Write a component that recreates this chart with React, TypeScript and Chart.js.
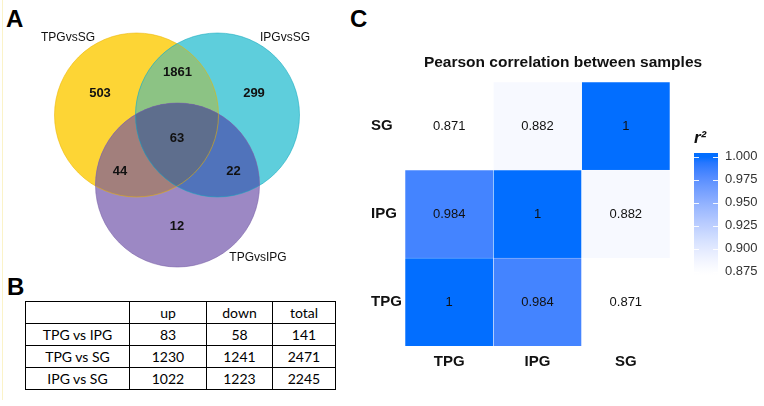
import React, { useEffect, useRef } from "react";
import { Chart, registerables } from "chart.js";
Chart.register(...registerables);

// ---------------- Data ----------------
// Panel A: Venn diagram
const vennSetNames = ["TPGvsSG", "IPGvsSG", "TPGvsIPG"];
// region counts: TPGvsSG only, TPGvsSG∩IPGvsSG, IPGvsSG only, all three, TPGvsSG∩TPGvsIPG, IPGvsSG∩TPGvsIPG, TPGvsIPG only
const vennRegionCounts = [503, 1861, 299, 63, 44, 22, 12];

// Panel B: table
const tableColumns = ["up", "down", "total"];
const tableRows = ["TPG vs IPG", "TPG vs SG", "IPG vs SG"];
const upCounts = [83, 1230, 1022];
const downCounts = [58, 1241, 1223];
const totalCounts = [141, 2471, 2245];

// Panel C: Pearson correlation heatmap
const samples = ["TPG", "IPG", "SG"];
const corrTPG = [1, 0.984, 0.871];
const corrIPG = [0.984, 1, 0.882];
const corrSG = [0.871, 0.882, 1];
const corrRows = [corrTPG, corrIPG, corrSG]; // bottom to top
const colorbarTicks = [0.875, 0.9, 0.925, 0.95, 0.975, 1.0];
const corrMin = 0.871;
const corrMax = 1.0;

// ---------------- Layout (not data) ----------------
const VENN_CX = [136.5, 217.5, 177.5];
const VENN_CY = [115, 115, 185];
const VENN_R = 82;
const VENN_LABEL_X = [68, 285, 258];
const VENN_LABEL_Y = [38, 38, 258];
const VENN_NUM_X = [100, 177.5, 254, 177, 120, 233.5, 177];
const VENN_NUM_Y = [93, 72.5, 93, 138, 171, 171, 226];
const VENN_FILL = ["#FDD535", "#5ECEDC", "#9C88C4"];
const VENN_STROKE = ["rgba(235,180,0,0.55)", "rgba(20,170,190,0.55)", "rgba(120,95,165,0.55)"];
const VENN_YC = "#8CC384";
const VENN_YP = "#A27F7C";
const VENN_CP = "#5073BB";
const VENN_YCP = "#5E6E8D";

// ---------------- Colour scale (white -> blue) ----------------
const LOW_RGB = [255, 255, 255];
const HIGH_RGB = [2, 110, 255];
function s2l(c: number) { c /= 255; return c <= 0.04045 ? c / 12.92 : Math.pow((c + 0.055) / 1.055, 2.4); }
function l2s(c: number) { const v = c <= 0.0031308 ? 12.92 * c : 1.055 * Math.pow(c, 1 / 2.4) - 0.055; return Math.max(0, Math.min(1, v)) * 255; }
function rgbToLab(rgb: number[]) {
  const R = s2l(rgb[0]), G = s2l(rgb[1]), B = s2l(rgb[2]);
  const X = (0.4124 * R + 0.3576 * G + 0.1805 * B) / 0.95047;
  const Y = 0.2126 * R + 0.7152 * G + 0.0722 * B;
  const Z = (0.0193 * R + 0.1192 * G + 0.9505 * B) / 1.08883;
  const f = (t: number) => (t > 0.008856 ? Math.cbrt(t) : 7.787 * t + 16 / 116);
  const fx = f(X), fy = f(Y), fz = f(Z);
  return [116 * fy - 16, 500 * (fx - fy), 200 * (fy - fz)];
}
function labToRgb(lab: number[]) {
  const fy = (lab[0] + 16) / 116, fx = fy + lab[1] / 500, fz = fy - lab[2] / 200;
  const fi = (t: number) => (t * t * t > 0.008856 ? t * t * t : (t - 16 / 116) / 7.787);
  const X = fi(fx) * 0.95047, Y = fi(fy), Z = fi(fz) * 1.08883;
  const R = 3.2406 * X - 1.5372 * Y - 0.4986 * Z;
  const G = -0.9689 * X + 1.8758 * Y + 0.0415 * Z;
  const B = 0.0557 * X - 0.204 * Y + 1.057 * Z;
  return [l2s(R), l2s(G), l2s(B)];
}
const LOW_LAB = rgbToLab(LOW_RGB);
const HIGH_LAB = rgbToLab(HIGH_RGB);
function corrColor(v: number) {
  const t0 = Math.max(0, Math.min(1, (v - corrMin) / (corrMax - corrMin)));
  const t = Math.pow(t0, 1.3);
  const lab = LOW_LAB.map((l, i) => l + (HIGH_LAB[i] - l) * t);
  const a = labToRgb(lab);
  const b = LOW_RGB.map((l, i) => l + (HIGH_RGB[i] - l) * t);
  const c = a.map((x, i) => Math.round((x + b[i]) / 2));
  return `rgb(${c[0]},${c[1]},${c[2]})`;
}

const SANS = "'Liberation Sans', Arial, Helvetica, sans-serif";

// ---------------- Venn chart ----------------
function VennChart() {
  const ref = useRef<HTMLCanvasElement>(null);
  useEffect(() => {
    const plugin = {
      id: "vennRegions",
      afterDatasetsDraw(chart: any) {
        const ctx = chart.ctx as CanvasRenderingContext2D;
        const meta = chart.getDatasetMeta(0);
        const circ = meta.data.map((el: any) => ({ x: el.x, y: el.y, r: el.options.radius }));
        const fill = (idx: number[], color: string) => {
          ctx.save();
          idx.forEach((i) => {
            ctx.beginPath();
            ctx.arc(circ[i].x, circ[i].y, circ[i].r, 0, Math.PI * 2);
            ctx.clip();
          });
          ctx.fillStyle = color;
          ctx.fillRect(0, 0, chart.width, chart.height);
          ctx.restore();
        };
        fill([0, 1], VENN_YC);
        fill([0, 2], VENN_YP);
        fill([1, 2], VENN_CP);
        fill([0, 1, 2], VENN_YCP);
        circ.forEach((c: any, i: number) => {
          ctx.save();
          ctx.beginPath();
          ctx.arc(c.x, c.y, c.r, 0, Math.PI * 2);
          ctx.strokeStyle = VENN_STROKE[i];
          ctx.lineWidth = 1;
          ctx.stroke();
          ctx.restore();
        });
        const xs = chart.scales.x, ys = chart.scales.y;
        ctx.save();
        ctx.fillStyle = "#111";
        ctx.textAlign = "center";
        ctx.textBaseline = "middle";
        ctx.font = `bold 13px ${SANS}`;
        vennRegionCounts.forEach((n, i) => {
          ctx.fillText(String(n), xs.getPixelForValue(VENN_NUM_X[i]), ys.getPixelForValue(VENN_NUM_Y[i]));
        });
        ctx.font = `12px ${SANS}`;
        vennSetNames.forEach((s, i) => {
          ctx.fillText(s, xs.getPixelForValue(VENN_LABEL_X[i]), ys.getPixelForValue(VENN_LABEL_Y[i]));
        });
        ctx.restore();
      },
    };
    const chart = new Chart(ref.current!, {
      type: "bubble",
      data: {
        datasets: [
          {
            label: "sets",
            data: vennSetNames.map((_, i) => ({ x: VENN_CX[i], y: VENN_CY[i], r: VENN_R })),
            backgroundColor: VENN_FILL,
            borderWidth: 0,
            hoverBorderWidth: 0,
            clip: false as any,
          },
        ],
      },
      options: {
        animation: false,
        responsive: false,
        events: [],
        layout: { padding: 0, autoPadding: false },
        plugins: { legend: { display: false }, tooltip: { enabled: false } },
        scales: {
          x: { type: "linear", min: 0, max: 340, display: false },
          y: { type: "linear", min: 0, max: 280, reverse: true, display: false },
        },
      },
      plugins: [plugin],
    });
    return () => chart.destroy();
  }, []);
  return <canvas ref={ref} width={340} height={280} style={{ position: "absolute", left: 0, top: 0, width: 340, height: 280 }} />;
}

// ---------------- Heatmap chart ----------------
function HeatmapChart() {
  const ref = useRef<HTMLCanvasElement>(null);
  useEffect(() => {
    const textPlugin = {
      id: "cellText",
      afterDatasetsDraw(chart: any) {
        const ctx = chart.ctx as CanvasRenderingContext2D;
        ctx.save();
        ctx.font = `13px ${SANS}`;
        ctx.fillStyle = "#111";
        ctx.textAlign = "center";
        ctx.textBaseline = "middle";
        corrRows.forEach((row, i) => {
          const meta = chart.getDatasetMeta(i);
          meta.data.forEach((el: any, j: number) => {
            ctx.fillText(String(row[j]), el.x, (el.y + el.base) / 2);
          });
        });
        ctx.restore();
      },
    };
    const chart = new Chart(ref.current!, {
      type: "bar",
      data: {
        labels: samples,
        datasets: corrRows.map((row, i) => ({
          label: samples[i],
          data: samples.map(() => 1),
          backgroundColor: row.map((v) => corrColor(v)),
          borderColor: "rgba(255,255,255,0.55)",
          borderWidth: 0.6,
          barPercentage: 1,
          categoryPercentage: 1,
          yAxisID: "y",
        })),
      },
      options: {
        animation: false,
        responsive: false,
        events: [],
        layout: { padding: { left: 11, right: 0, top: 0, bottom: 0 } },
        plugins: {
          legend: { display: false },
          tooltip: { enabled: false },
          title: {
            display: true,
            text: "Pearson correlation between samples",
            color: "#111",
            font: { family: SANS, size: 15.5, weight: "bold" },
            padding: { top: 13, bottom: 10.4 },
          },
        },
        scales: {
          x: {
            stacked: true,
            grid: { display: false, drawTicks: false },
            border: { display: false },
            ticks: { color: "#111", font: { family: SANS, size: 15, weight: "bold" }, padding: 7 },
            afterFit: (s: any) => { s.height = 34; },
          },
          y: {
            stacked: true,
            min: 0,
            max: 3,
            grid: { display: false, drawTicks: false },
            border: { display: false },
            afterBuildTicks: (s: any) => { s.ticks = samples.map((_, i) => ({ value: i + 0.5 })); },
            ticks: {
              color: "#111",
              font: { family: SANS, size: 15, weight: "bold" },
              padding: 6,
              crossAlign: "far",
              callback: (v: any) => samples[Math.floor(Number(v))],
            },
            afterFit: (s: any) => { s.width = 34; },
          },
          y2: {
            type: "linear",
            position: "right",
            min: 0,
            max: 1,
            grid: { display: false, drawTicks: false },
            border: { display: false },
            ticks: { display: false },
            afterFit: (s: any) => { s.width = 85; },
          },
        },
      },
      plugins: [textPlugin],
    });
    return () => chart.destroy();
  }, []);
  return <canvas ref={ref} width={395} height={340} style={{ position: "absolute", left: 360, top: 40, width: 395, height: 340 }} />;
}

// ---------------- Colour bar ----------------
function ColorbarChart() {
  const ref = useRef<HTMLCanvasElement>(null);
  useEffect(() => {
    const tickMarks = {
      id: "cbTicks",
      afterDatasetsDraw(chart: any) {
        const ctx = chart.ctx as CanvasRenderingContext2D;
        const a = chart.chartArea;
        const ys = chart.scales.y;
        ctx.save();
        ctx.strokeStyle = "rgba(255,255,255,0.9)";
        ctx.lineWidth = 1;
        colorbarTicks.forEach((t) => {
          const y = Math.round(ys.getPixelForValue(t)) + 0.5;
          ctx.beginPath();
          ctx.moveTo(a.left, y);
          ctx.lineTo(a.left + 5, y);
          ctx.moveTo(a.right - 5, y);
          ctx.lineTo(a.right, y);
          ctx.stroke();
        });
        ctx.restore();
      },
    };
    const top = 1.0042;
    const chart = new Chart(ref.current!, {
      type: "bar",
      data: {
        labels: [""],
        datasets: [
          {
            label: "r2",
            data: [[corrMin, top]] as any,
            barPercentage: 1,
            categoryPercentage: 1,
            borderWidth: 0,
            backgroundColor: (c: any) => {
              const ch = c.chart;
              if (!ch.chartArea) return "#fff";
              const ys = ch.scales.y;
              const y0 = ys.getPixelForValue(corrMin);
              const y1 = ys.getPixelForValue(corrMax);
              const g = ch.ctx.createLinearGradient(0, y0, 0, y1);
              for (let k = 0; k <= 20; k++) {
                g.addColorStop(k / 20, corrColor(corrMin + ((corrMax - corrMin) * k) / 20));
              }
              return g;
            },
          },
        ],
      },
      options: {
        animation: false,
        responsive: false,
        events: [],
        layout: { padding: { left: 14, right: 0, top: 0, bottom: 11 } },
        plugins: {
          legend: { display: false },
          tooltip: { enabled: false },
          title: {
            display: true,
            text: "r²",
            align: "start",
            color: "#111",
            font: { family: SANS, size: 17, weight: "bold", style: "italic" },
            padding: { top: 8, bottom: 4.6 },
          },
        },
        scales: {
          x: { display: false },
          y: {
            position: "right",
            min: corrMin,
            max: top,
            grid: { display: false, drawTicks: false },
            border: { display: false },
            afterBuildTicks: (s: any) => { s.ticks = colorbarTicks.map((v) => ({ value: v })); },
            ticks: {
              color: "#333",
              font: { family: SANS, size: 13 },
              padding: 7,
              callback: (v: any) => Number(v).toFixed(3),
            },
            afterFit: (s: any) => { s.width = 46; },
          },
        },
      },
      plugins: [tickMarks],
    });
    return () => chart.destroy();
  }, []);
  return <canvas ref={ref} width={84} height={170} style={{ position: "absolute", left: 680, top: 120, width: 84, height: 170 }} />;
}

// ---------------- Table ----------------
function CountTable() {
  const cell: React.CSSProperties = {
    border: "1.6px solid #000",
    padding: 0,
    height: 21,
    textAlign: "center",
    verticalAlign: "middle",
  };
  const widths = [104, 77, 66, 63];
  const rows = tableRows.map((r, i) => [r, upCounts[i], downCounts[i], totalCounts[i]]);
  return (
    <table
      style={{
        position: "absolute",
        left: 25,
        top: 301,
        width: 310,
        borderCollapse: "collapse",
        fontFamily: "Lato, 'Open Sans', sans-serif",
        fontSize: 14,
        color: "#000",
        tableLayout: "fixed",
      }}
    >
      <colgroup>
        {widths.map((w, i) => (
          <col key={i} style={{ width: w }} />
        ))}
      </colgroup>
      <tbody>
        <tr>
          <td style={cell}></td>
          {tableColumns.map((c) => (
            <td key={c} style={cell}>{c}</td>
          ))}
        </tr>
        {rows.map((r, i) => (
          <tr key={i}>
            {r.map((v, j) => (
              <td key={j} style={cell}>{v}</td>
            ))}
          </tr>
        ))}
      </tbody>
    </table>
  );
}

const letter: React.CSSProperties = {
  position: "absolute",
  fontFamily: SANS,
  fontWeight: "bold",
  fontSize: 24,
  lineHeight: "normal",
  color: "#000",
};

export default function App() {
  return (
    <div style={{ position: "absolute", left: 0, top: 0, width: 764, height: 406, background: "#fff", overflow: "hidden" }}>
      <div style={{ position: "absolute", left: 2, top: 0, width: 1, height: 400, background: "#fbf3c8" }} />
      <div style={{ ...letter, left: 6, top: 5 }}>A</div>
      <div style={{ ...letter, left: 7, top: 273 }}>B</div>
      <div style={{ ...letter, left: 350, top: 5 }}>C</div>
      <VennChart />
      <CountTable />
      <HeatmapChart />
      <ColorbarChart />
    </div>
  );
}
